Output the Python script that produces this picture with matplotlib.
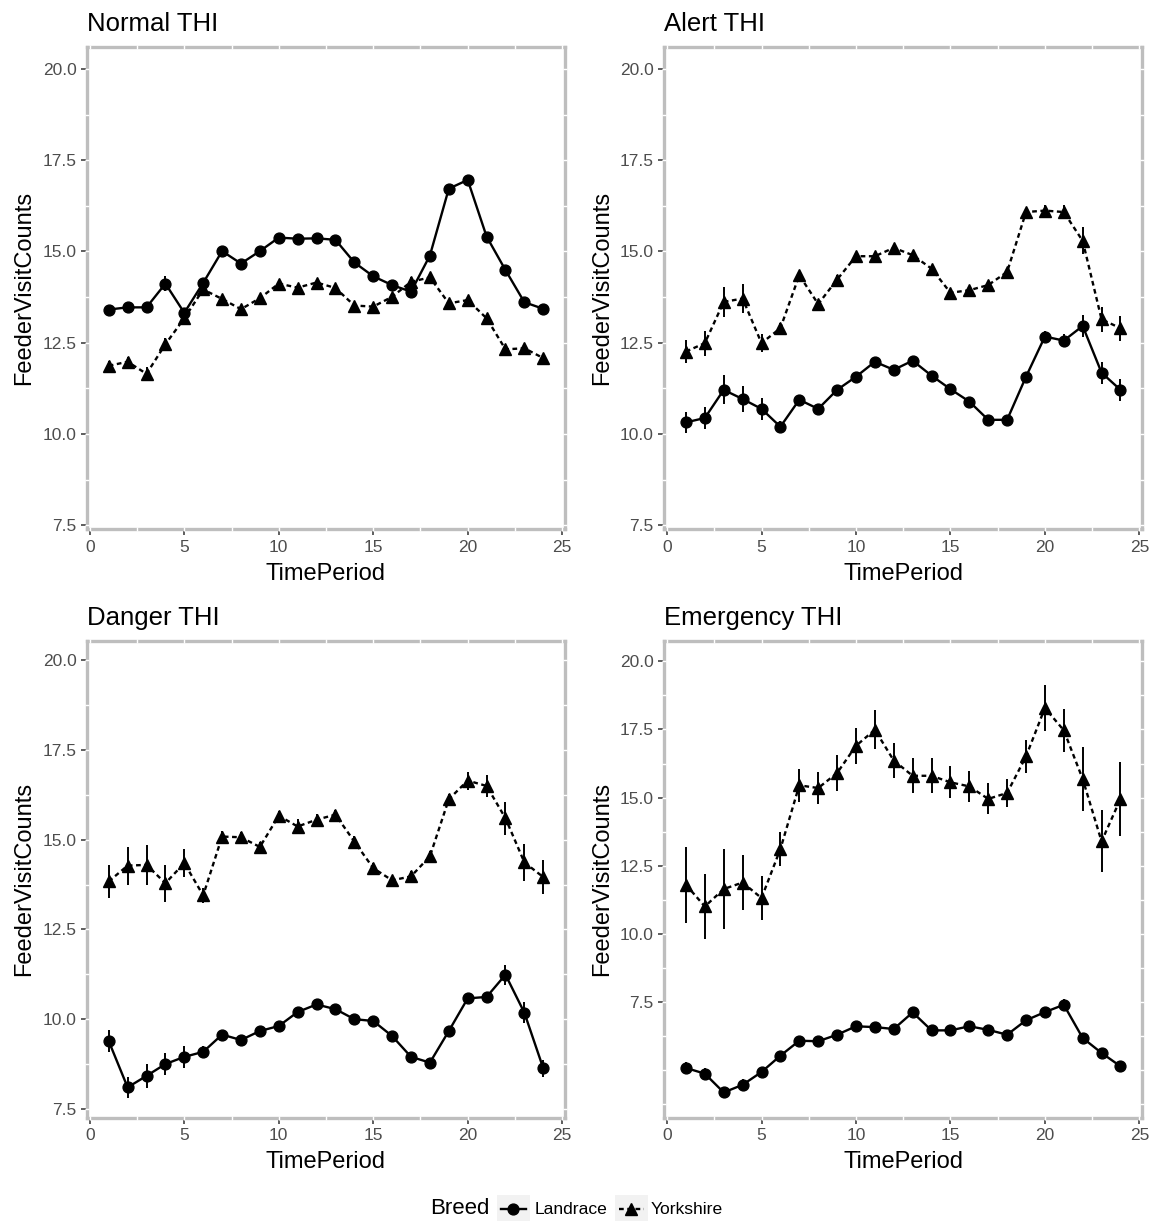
import matplotlib
matplotlib.use('Agg')
import matplotlib.pyplot as plt
from matplotlib.lines import Line2D
from matplotlib.patches import Rectangle
import numpy as np

plt.rcParams['font.family'] = ['Liberation Sans', 'DejaVu Sans']

# feeder visit counts by hour, mean and SE per breed and THI class
time_period = list(range(1, 25))

normal_landrace = [13.41, 13.47, 13.47, 14.12, 13.32, 14.14, 15.01, 14.67, 15.01, 15.38, 15.35, 15.36,
                   15.32, 14.70, 14.32, 14.08, 13.90, 14.89, 16.72, 16.96, 15.41, 14.49, 13.61, 13.43]
normal_landrace_se = [0.10, 0.12, 0.12, 0.20, 0.12, 0.12, 0.10, 0.10, 0.10, 0.08, 0.08, 0.08,
                      0.08, 0.08, 0.08, 0.08, 0.08, 0.10, 0.10, 0.10, 0.10, 0.10, 0.10, 0.10]
normal_yorkshire = [11.87, 11.98, 11.65, 12.46, 13.17, 13.96, 13.70, 13.42, 13.72, 14.12, 14.01, 14.15,
                    14.00, 13.52, 13.49, 13.76, 14.17, 14.29, 13.58, 13.67, 13.17, 12.32, 12.35, 12.08]
normal_yorkshire_se = [0.12, 0.12, 0.20, 0.18, 0.15, 0.10, 0.10, 0.10, 0.10, 0.08, 0.08, 0.08,
                       0.08, 0.08, 0.08, 0.08, 0.12, 0.10, 0.10, 0.10, 0.12, 0.12, 0.12, 0.12]

alert_landrace = [10.32, 10.44, 11.21, 10.96, 10.69, 10.20, 10.94, 10.69, 11.21, 11.57, 11.98, 11.76,
                  12.01, 11.60, 11.23, 10.89, 10.39, 10.39, 11.57, 12.67, 12.56, 12.96, 11.68, 11.21]
alert_landrace_se = [0.28, 0.31, 0.40, 0.36, 0.30, 0.15, 0.12, 0.12, 0.12, 0.10, 0.10, 0.10,
                     0.10, 0.10, 0.10, 0.10, 0.10, 0.10, 0.12, 0.15, 0.18, 0.30, 0.30, 0.30]
alert_yorkshire = [12.26, 12.49, 13.62, 13.71, 12.49, 12.90, 14.35, 13.56, 14.23, 14.87, 14.87, 15.10,
                   14.90, 14.53, 13.87, 13.94, 14.08, 14.44, 16.08, 16.12, 16.08, 15.29, 13.14, 12.90]
alert_yorkshire_se = [0.32, 0.34, 0.41, 0.40, 0.25, 0.15, 0.12, 0.12, 0.12, 0.10, 0.10, 0.10,
                      0.10, 0.10, 0.10, 0.10, 0.10, 0.12, 0.12, 0.15, 0.18, 0.37, 0.34, 0.34]

danger_landrace = [9.39, 8.10, 8.42, 8.75, 8.95, 9.09, 9.57, 9.42, 9.67, 9.81, 10.20, 10.41,
                   10.28, 10.00, 9.95, 9.53, 8.95, 8.79, 9.67, 10.58, 10.62, 11.24, 10.18, 8.63]
danger_landrace_se = [0.30, 0.30, 0.33, 0.31, 0.31, 0.15, 0.10, 0.10, 0.10, 0.10, 0.10, 0.10,
                      0.10, 0.10, 0.10, 0.10, 0.10, 0.10, 0.10, 0.12, 0.15, 0.28, 0.29, 0.24]
danger_yorkshire = [13.84, 14.28, 14.30, 13.79, 14.35, 13.45, 15.09, 15.07, 14.80, 15.67, 15.37, 15.56,
                    15.70, 14.95, 14.21, 13.87, 13.98, 14.54, 16.13, 16.65, 16.50, 15.60, 14.37, 13.96]
danger_yorkshire_se = [0.46, 0.53, 0.56, 0.52, 0.38, 0.20, 0.15, 0.15, 0.15, 0.12, 0.20, 0.15,
                       0.12, 0.15, 0.15, 0.12, 0.15, 0.15, 0.15, 0.25, 0.30, 0.46, 0.51, 0.48]

emergency_landrace = [5.07, 4.86, 4.17, 4.45, 4.92, 5.52, 6.07, 6.05, 6.29, 6.60, 6.57, 6.50,
                      7.11, 6.45, 6.45, 6.60, 6.47, 6.29, 6.82, 7.12, 7.39, 6.17, 5.62, 5.13]
emergency_landrace_se = [0.20, 0.20, 0.20, 0.20, 0.15, 0.12, 0.12, 0.12, 0.12, 0.12, 0.12, 0.12,
                         0.15, 0.12, 0.12, 0.12, 0.12, 0.12, 0.15, 0.15, 0.20, 0.20, 0.20, 0.20]
emergency_yorkshire = [11.80, 11.00, 11.64, 11.88, 11.31, 13.11, 15.45, 15.35, 15.90, 16.90, 17.49, 16.36,
                       15.80, 15.80, 15.56, 15.41, 14.95, 15.17, 16.51, 18.29, 17.47, 15.68, 13.39, 14.95]
emergency_yorkshire_se = [1.39, 1.21, 1.48, 1.02, 0.81, 0.64, 0.61, 0.60, 0.67, 0.67, 0.72, 0.65,
                          0.64, 0.65, 0.59, 0.57, 0.57, 0.53, 0.61, 0.84, 0.78, 1.19, 1.14, 1.35]

y_breaks = [7.5, 10.0, 12.5, 15.0, 17.5, 20.0]

panels = [
    ('Normal THI', normal_landrace, normal_landrace_se, normal_yorkshire, normal_yorkshire_se,
     (87, 47, 478, 482), (7.4, 20.6)),
    ('Alert THI', alert_landrace, alert_landrace_se, alert_yorkshire, alert_yorkshire_se,
     (664.2, 47, 478, 482), (7.4, 20.6)),
    ('Danger THI', danger_landrace, danger_landrace_se, danger_yorkshire, danger_yorkshire_se,
     (87, 641, 478, 476.5), (7.26, 20.54)),
    ('Emergency THI', emergency_landrace, emergency_landrace_se, emergency_yorkshire, emergency_yorkshire_se,
     (664.2, 641, 478, 476.5), (3.25, 20.75)),
]

W, H = 1152, 1221
fig = plt.figure(figsize=(W / 100, H / 100), dpi=100)
border_col = '#BEBEBE'
york_dash = (0, (2.0, 1.5))

for title, land, land_se, york, york_se, (px, py, pw, ph), ylim in panels:
    ax = fig.add_axes([px / W, 1 - (py + ph) / H, pw / W, ph / H])

    ax.errorbar(time_period, land, yerr=land_se, fmt='none', ecolor='black', elinewidth=1.4, capsize=0, zorder=2)
    ax.plot(time_period, land, color='black', lw=1.7, ls='-', marker='o', ms=7.8, zorder=3)
    ax.errorbar(time_period, york, yerr=york_se, fmt='none', ecolor='black', elinewidth=1.4, capsize=0, zorder=2)
    ax.plot(time_period, york, color='black', lw=1.7, ls=york_dash, marker='^', ms=8.7, zorder=3)

    ax.set_xlim(-0.15, 25.15)
    ax.set_ylim(*ylim)
    ax.set_xticks([0, 5, 10, 15, 20, 25])
    ax.set_yticks(y_breaks)
    ax.set_yticklabels([f'{v:.1f}' for v in y_breaks])

    ax.tick_params(length=4.6, width=1.1, color='#333333', labelcolor='#4D4D4D', labelsize=12.5, pad=3)
    for sp in ax.spines.values():
        sp.set_color(border_col)
        sp.set_linewidth(2.4)
        sp.set_capstyle('projecting')

    # white grid lines cut small gaps into the grey border
    xg = np.arange(0, 25.01, 2.5)
    yg = np.arange(np.ceil(ylim[0] / 1.25) * 1.25, ylim[1], 1.25)
    for yy in (0, 1):
        ax.plot(xg, [yy] * len(xg), transform=ax.get_xaxis_transform(), ls='none', marker='|',
                ms=3.4, mew=1.0, color='white', clip_on=False, zorder=4)
    for xx in (0, 1):
        ax.plot([xx] * len(yg), yg, transform=ax.get_yaxis_transform(), ls='none', marker='_',
                ms=3.4, mew=1.0, color='white', clip_on=False, zorder=4)

    ax.set_title(title, loc='left', fontsize=18.5, pad=11.5)
    ax.set_xlabel('TimePeriod', fontsize=17, labelpad=6)
    ax.set_ylabel('FeederVisitCounts', fontsize=17, labelpad=5)

# legend row at the bottom
lax = fig.add_axes([0, 0, 1, 32 / H])
lax.set_xlim(0, W)
lax.set_ylim(H, H - 32)
lax.axis('off')
lax.text(430, 1209, 'Breed', fontsize=16, va='center', ha='left')
keys = [('Landrace', '-', 'o', 7.8, 496.5, 535),
        ('Yorkshire', york_dash, '^', 8.7, 614.5, 651)]
for label, ls, mk, ms, bx, tx in keys:
    lax.add_patch(Rectangle((bx, 1195), 33, 28, facecolor='#F2F2F2', edgecolor='none'))
    lax.add_line(Line2D([bx + 4, bx + 29], [1209, 1209], color='black', lw=1.7, ls=ls))
    lax.add_line(Line2D([bx + 16.5], [1209], color='black', marker=mk, ms=ms))
    lax.text(tx, 1209, label, fontsize=12.6, va='center', ha='left')

fig.savefig('out.png', dpi=100)
